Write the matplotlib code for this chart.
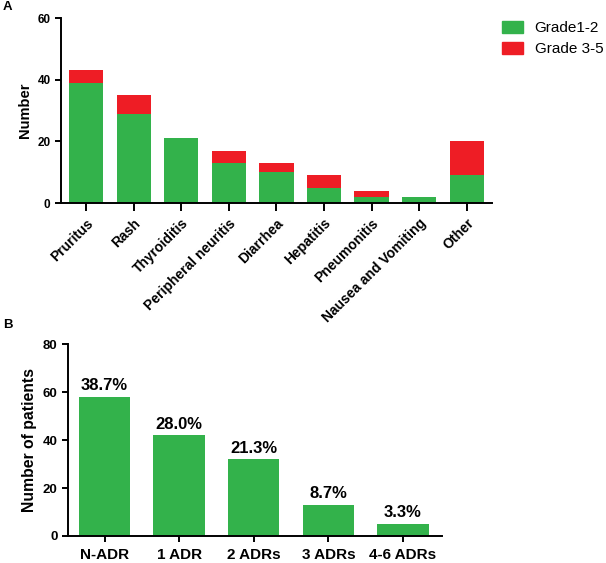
import numpy as np
import matplotlib
matplotlib.use("Agg")
import matplotlib.pyplot as plt
from matplotlib.patches import Patch

plt.rcParams["font.family"] = ["Liberation Sans", "DejaVu Sans"]

# --- Data ---------------------------------------------------------------
adr_types = ["Pruritus", "Rash", "Thyroiditis", "Peripheral neuritis", "Diarrhea",
             "Hepatitis", "Pneumonitis", "Nausea and Vomiting", "Other"]
grade_12 = [39, 29, 21, 13, 10, 5, 2, 2, 9]
grade_35 = [4, 6, 0, 4, 3, 4, 2, 0, 11]

adr_counts = ["N-ADR", "1 ADR", "2 ADRs", "3 ADRs", "4-6 ADRs"]
patients = [58, 42, 32, 13, 5]
pct_labels = ["38.7%", "28.0%", "21.3%", "8.7%", "3.3%"]

GREEN = "#33B24B"
RED = "#EE1D25"

fig = plt.figure(figsize=(6.06, 5.63), dpi=100)


def style_axis(ax, size):
    for s in ["top", "right"]:
        ax.spines[s].set_visible(False)
    for s in ["left", "bottom"]:
        ax.spines[s].set_linewidth(1.4)
    ax.tick_params(width=1.4, length=4, labelsize=size)
    for lbl in ax.get_yticklabels() + ax.get_xticklabels():
        lbl.set_fontweight("bold")


# --- Panel A: stacked bars ---------------------------------------------
axA = fig.add_axes([0.1007, 0.6394, 0.711, 0.3286])
x = np.arange(len(adr_types))
axA.bar(x, grade_12, width=0.72, color=GREEN, label="Grade1-2")
axA.bar(x, grade_35, width=0.72, bottom=grade_12, color=RED, label="Grade 3-5")
axA.set_xlim(-0.53, 8.53)
axA.set_ylim(0, 60)
axA.set_yticks([0, 20, 40, 60])
axA.set_xticks(x)
axA.set_xticklabels(adr_types, rotation=45, ha="right", rotation_mode="anchor")
axA.set_ylabel("Number", fontsize=10.5, fontweight="bold")
style_axis(axA, 8.5)
axA.tick_params(axis="x", length=6, labelsize=10)
fig.legend(handles=[Patch(color=GREEN, label="Grade1-2"), Patch(color=RED, label="Grade 3-5")],
           loc="upper left", bbox_to_anchor=(0.828, 0.962), frameon=False, fontsize=11,
           borderpad=0, borderaxespad=0,
           handlelength=1.4, handleheight=0.78, handletextpad=0.75, labelspacing=0.45)

# --- Panel B: patients by number of ADRs --------------------------------
axB = fig.add_axes([0.1122, 0.048, 0.6167, 0.3405])
xb = np.arange(len(adr_counts))
bars = axB.bar(xb, patients, width=0.69, color=GREEN)
for rect, lab in zip(bars, pct_labels):
    axB.text(rect.get_x() + rect.get_width() / 2, rect.get_height() + 1.5, lab,
             ha="center", va="bottom", fontsize=12, fontweight="bold")
axB.set_xlim(-0.49, 4.52)
axB.set_ylim(0, 80)
axB.set_yticks([0, 20, 40, 60, 80])
axB.set_xticks(xb)
axB.set_xticklabels(adr_counts)
axB.set_ylabel("Number of patients", fontsize=11.3, fontweight="bold")
style_axis(axB, 9.5)
axB.tick_params(axis="x", labelsize=11, pad=5)

fig.text(0.005, 0.998, "A", fontsize=9.5, fontweight="bold", va="top")
fig.text(0.005, 0.434, "B", fontsize=9.5, fontweight="bold", va="top")

fig.savefig("out.png", dpi=100)
